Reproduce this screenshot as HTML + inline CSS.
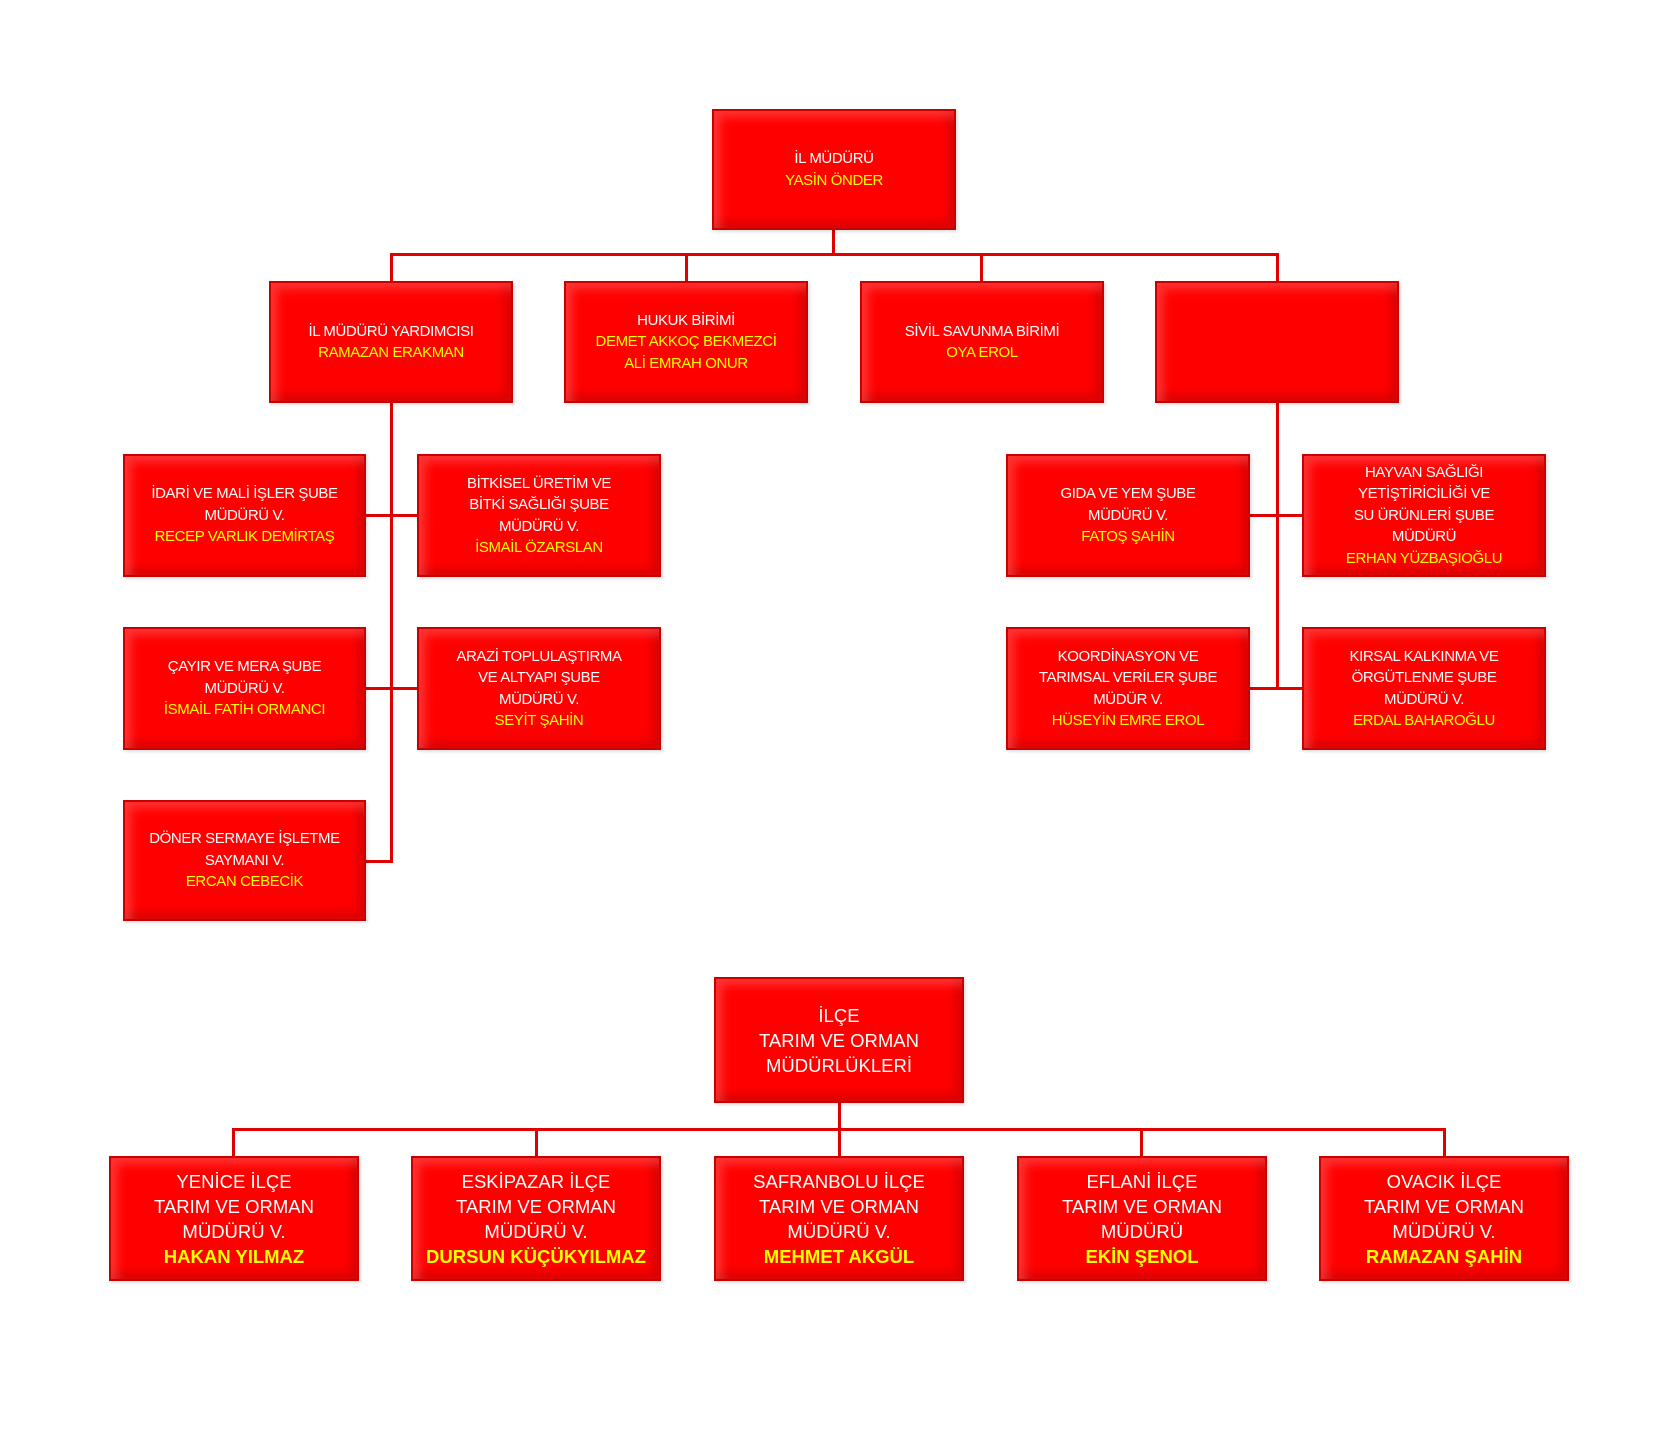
<!DOCTYPE html>
<html><head><meta charset="utf-8"><style>
body{margin:0;width:1654px;height:1429px;background:#fff;position:relative;overflow:hidden;font-family:"Liberation Sans",sans-serif}
.b{position:absolute;background:#ff0000;border:2px solid #c80000;box-sizing:border-box;display:flex;align-items:center;justify-content:center;text-align:center;color:#fff;font-size:15px;line-height:21.5px;letter-spacing:-0.4px;box-shadow:inset 6px 6px 10px rgba(255,150,150,0.35),inset -6px -6px 10px rgba(140,0,0,0.35),2px 2px 3px rgba(0,0,0,0.12)}
.b span{display:block}
.y{color:#ffff00}
.big{font-size:18.5px;line-height:25px;letter-spacing:0}
.l{position:absolute;background:#e00000}
</style></head><body>
<div class="l" style="left:832px;top:229px;width:3px;height:26px"></div>
<div class="l" style="left:390px;top:253px;width:889px;height:3px"></div>
<div class="l" style="left:390px;top:253px;width:3px;height:29px"></div>
<div class="l" style="left:685px;top:253px;width:3px;height:29px"></div>
<div class="l" style="left:980px;top:253px;width:3px;height:29px"></div>
<div class="l" style="left:1276px;top:253px;width:3px;height:29px"></div>
<div class="l" style="left:390px;top:402px;width:3px;height:460px"></div>
<div class="l" style="left:365px;top:514px;width:52px;height:3px"></div>
<div class="l" style="left:365px;top:687px;width:52px;height:3px"></div>
<div class="l" style="left:365px;top:860px;width:28px;height:3px"></div>
<div class="l" style="left:1276px;top:402px;width:3px;height:288px"></div>
<div class="l" style="left:1249px;top:514px;width:53px;height:3px"></div>
<div class="l" style="left:1249px;top:687px;width:53px;height:3px"></div>
<div class="l" style="left:838px;top:1102px;width:3px;height:28px"></div>
<div class="l" style="left:232px;top:1128px;width:1213px;height:3px"></div>
<div class="l" style="left:232px;top:1128px;width:3px;height:28px"></div>
<div class="l" style="left:535px;top:1128px;width:3px;height:28px"></div>
<div class="l" style="left:838px;top:1128px;width:3px;height:28px"></div>
<div class="l" style="left:1140px;top:1128px;width:3px;height:28px"></div>
<div class="l" style="left:1443px;top:1128px;width:3px;height:28px"></div>

<div class="b" style="left:712px;top:109px;width:244px;height:121px"><div><span>İL MÜDÜRÜ</span><span class="y">YASİN ÖNDER</span></div></div>

<div class="b" style="left:269px;top:281px;width:244px;height:122px"><div><span>İL MÜDÜRÜ YARDIMCISI</span><span class="y">RAMAZAN ERAKMAN</span></div></div>
<div class="b" style="left:564px;top:281px;width:244px;height:122px"><div><span>HUKUK BİRİMİ</span><span class="y">DEMET AKKOÇ BEKMEZCİ</span><span class="y">ALİ EMRAH ONUR</span></div></div>
<div class="b" style="left:860px;top:281px;width:244px;height:122px"><div><span>SİVİL SAVUNMA BİRİMİ</span><span class="y">OYA EROL</span></div></div>
<div class="b" style="left:1155px;top:281px;width:244px;height:122px"></div>

<div class="b" style="left:123px;top:454px;width:243px;height:123px"><div><span>İDARİ VE MALİ İŞLER ŞUBE</span><span>MÜDÜRÜ V.</span><span class="y">RECEP VARLIK DEMİRTAŞ</span></div></div>
<div class="b" style="left:417px;top:454px;width:244px;height:123px"><div><span>BİTKİSEL ÜRETİM VE</span><span>BİTKİ SAĞLIĞI ŞUBE</span><span>MÜDÜRÜ V.</span><span class="y">İSMAİL ÖZARSLAN</span></div></div>
<div class="b" style="left:123px;top:627px;width:243px;height:123px"><div><span>ÇAYIR VE MERA ŞUBE</span><span>MÜDÜRÜ V.</span><span class="y">İSMAİL FATİH ORMANCI</span></div></div>
<div class="b" style="left:417px;top:627px;width:244px;height:123px"><div><span>ARAZİ TOPLULAŞTIRMA</span><span>VE ALTYAPI ŞUBE</span><span>MÜDÜRÜ V.</span><span class="y">SEYİT ŞAHİN</span></div></div>
<div class="b" style="left:123px;top:800px;width:243px;height:121px"><div><span>DÖNER SERMAYE İŞLETME</span><span>SAYMANI V.</span><span class="y">ERCAN CEBECİK</span></div></div>

<div class="b" style="left:1006px;top:454px;width:244px;height:123px"><div><span>GIDA VE YEM ŞUBE</span><span>MÜDÜRÜ V.</span><span class="y">FATOŞ ŞAHİN</span></div></div>
<div class="b" style="left:1302px;top:454px;width:244px;height:123px"><div><span>HAYVAN SAĞLIĞI</span><span>YETİŞTİRİCİLİĞİ VE</span><span>SU ÜRÜNLERİ ŞUBE</span><span>MÜDÜRÜ</span><span class="y">ERHAN YÜZBAŞIOĞLU</span></div></div>
<div class="b" style="left:1006px;top:627px;width:244px;height:123px"><div><span>KOORDİNASYON VE</span><span>TARIMSAL VERİLER ŞUBE</span><span>MÜDÜR V.</span><span class="y">HÜSEYİN EMRE EROL</span></div></div>
<div class="b" style="left:1302px;top:627px;width:244px;height:123px"><div><span>KIRSAL KALKINMA VE</span><span>ÖRGÜTLENME ŞUBE</span><span>MÜDÜRÜ V.</span><span class="y">ERDAL BAHAROĞLU</span></div></div>

<div class="b big" style="left:714px;top:977px;width:250px;height:126px"><div><span>İLÇE</span><span>TARIM VE ORMAN</span><span>MÜDÜRLÜKLERİ</span></div></div>

<div class="b big" style="left:109px;top:1156px;width:250px;height:125px"><div><span>YENİCE İLÇE</span><span>TARIM VE ORMAN</span><span>MÜDÜRÜ V.</span><span class="y"><b>HAKAN YILMAZ</b></span></div></div>
<div class="b big" style="left:411px;top:1156px;width:250px;height:125px"><div><span>ESKİPAZAR İLÇE</span><span>TARIM VE ORMAN</span><span>MÜDÜRÜ V.</span><span class="y"><b>DURSUN KÜÇÜKYILMAZ</b></span></div></div>
<div class="b big" style="left:714px;top:1156px;width:250px;height:125px"><div><span>SAFRANBOLU İLÇE</span><span>TARIM VE ORMAN</span><span>MÜDÜRÜ V.</span><span class="y"><b>MEHMET AKGÜL</b></span></div></div>
<div class="b big" style="left:1017px;top:1156px;width:250px;height:125px"><div><span>EFLANİ İLÇE</span><span>TARIM VE ORMAN</span><span>MÜDÜRÜ</span><span class="y"><b>EKİN ŞENOL</b></span></div></div>
<div class="b big" style="left:1319px;top:1156px;width:250px;height:125px"><div><span>OVACIK İLÇE</span><span>TARIM VE ORMAN</span><span>MÜDÜRÜ V.</span><span class="y"><b>RAMAZAN ŞAHİN</b></span></div></div>
</body></html>
